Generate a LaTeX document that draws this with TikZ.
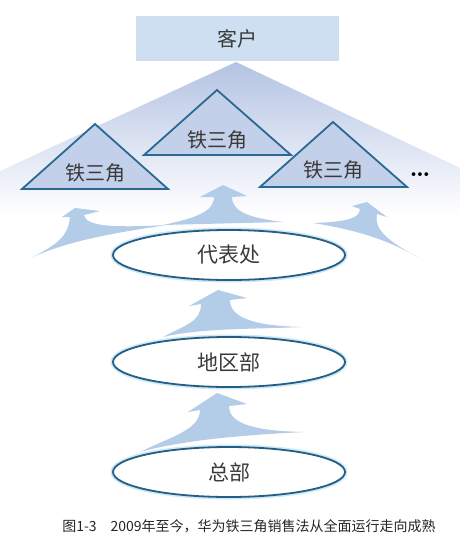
\documentclass[tikz,border=0pt]{standalone}
\usepackage{fontspec}
\newfontfamily\cjk{Noto Sans CJK SC}
\usetikzlibrary{shapes.geometric}
\definecolor{boxblue}{HTML}{CDDFF0}
\definecolor{fanblue}{HTML}{B4C3E3}
\definecolor{trifill}{HTML}{C3D0EA}
\definecolor{triedge}{HTML}{2B6893}
\definecolor{flowblue}{HTML}{B3CDE8}
\definecolor{rimblue}{HTML}{245E86}
\definecolor{glowblue}{HTML}{CFE8F6}
\definecolor{inkgray}{HTML}{3A3A3A}
\begin{document}
\begin{tikzpicture}[x=1pt,y=-1pt,
  word/.style={font=\cjk\fontsize{20}{24}\selectfont,text=inkgray,inner sep=0pt},
  office/.style={ellipse,draw=rimblue,line width=1.8pt,fill=white,
    minimum width=232pt,minimum height=50pt,inner sep=0pt,
    preaction={draw=glowblue,line width=5pt},
    font=\cjk\fontsize{21}{24}\selectfont,text=inkgray},
  triangle/.style={draw=triedge,line width=1.8pt,fill=trifill},
  flow/.style={fill=flowblue}]
\useasboundingbox (0,0) rectangle (460,552);
\shade[top color=fanblue,bottom color=white] (236,62) -- (0,171) --
  (0,215) -- (460,215) -- (460,168) -- cycle;
\node[word,fill=boxblue,minimum width=203pt,minimum height=45pt]
  (client) at (237.5,38.5) {客户};
\draw[triangle] (217,90) -- (291,155) -- (144,155) -- cycle;
\node[word] (tri2) at (217,140) {铁三角};
\draw[triangle] (95,124) -- (168,189) -- (22,189) -- cycle;
\node[word] (tri1) at (95,173) {铁三角};
\draw[triangle] (333,122) -- (407,187) -- (260,187) -- cycle;
\node[word] (tri3) at (333,170) {铁三角};
\node[font=\bfseries\fontsize{26}{26}\selectfont,inner sep=0pt]
  (more) at (420,175) {\dots};
\fill[flow] (75,208) -- (100,211) -- (84,215) .. controls (86,226) and
  (110,228) .. (167,225) .. controls (120,232) and (70,240) .. (33,257)
  .. controls (55,245) and (68,238) .. (70,217) -- (62,217) -- cycle;
\fill[flow] (223,185) -- (247,196) -- (232,197) .. controls (232,212) and
  (250,218) .. (283,222) -- (163,225) .. controls (195,218) and
  (214,212) .. (214,197) -- (200,197) -- cycle;
\fill[flow] (367,202) -- (387,217) -- (377,214) .. controls (374,228) and
  (385,240) .. (418,257) .. controls (395,245) and (370,232) .. (313,223)
  .. controls (340,222) and (360,220) .. (360,209) -- (352,206) -- cycle;
\fill[flow] (218,290) -- (247,298) -- (230,300) .. controls (230,318) and
  (255,326) .. (303,327) .. controls (260,329) and (200,328) .. (163,337)
  .. controls (185,325) and (201,322) .. (201,304) -- (189,306) -- cycle;
\fill[flow] (217,393) -- (247,404) -- (229,406) .. controls (229,424) and
  (255,431) .. (305,432) .. controls (265,434) and (190,438) .. (140,452)
  .. controls (170,437) and (200,430) .. (200,410) -- (188,412) -- cycle;
\node[office] (rep) at (229,255) {代表处};
\node[office] (region) at (229,362) {地区部};
\node[office] (hq) at (229,472) {总部};
\node[font=\cjk\fontsize{14}{16}\selectfont,text=black!85,inner sep=0pt]
  (caption) at (249,526) {图1-3\quad 2009年至今，华为铁三角销售法从全面运行走向成熟};
\end{tikzpicture}
\end{document}
